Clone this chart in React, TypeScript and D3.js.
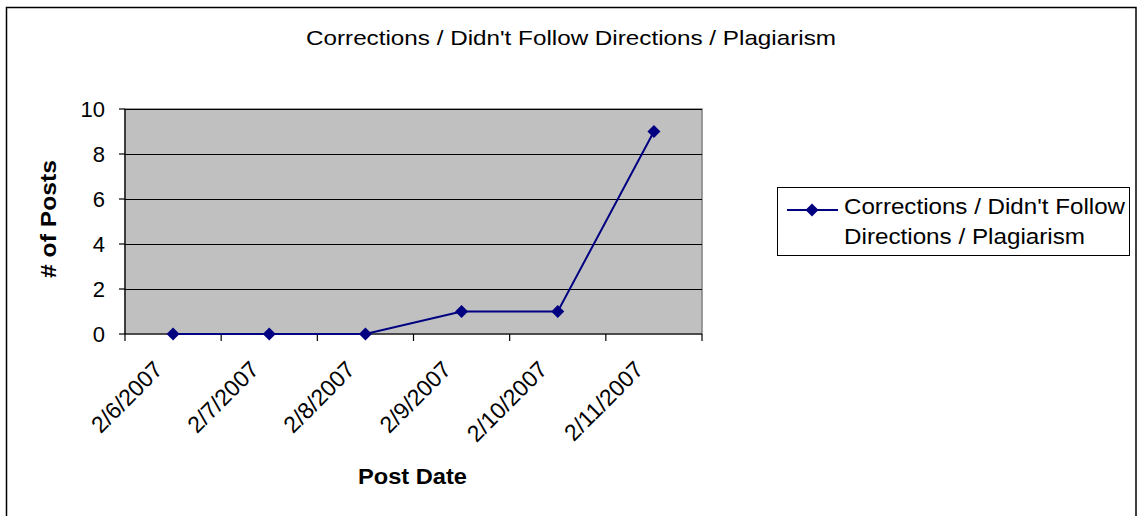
import React from "react";
import * as d3 from "d3";

const categories = ["2/6/2007", "2/7/2007", "2/8/2007", "2/9/2007", "2/10/2007", "2/11/2007"];
const values = [0, 0, 0, 1, 1, 9];
const yTicks = [0, 2, 4, 6, 8, 10];
const legendLines = ["Corrections / Didn't Follow", "Directions / Plagiarism"];
const titleText = "Corrections / Didn't Follow Directions / Plagiarism";

const W = 1138, H = 516;
const plot = { left: 125, right: 702, top: 109, bottom: 334 };
const font = "'Liberation Sans', Arial, sans-serif";
const navy = "#000080";

export default function App() {
  const x = d3.scaleBand().domain(categories).range([plot.left, plot.right]);
  const y = d3.scaleLinear().domain([0, 10]).range([plot.bottom, plot.top]);
  const line = d3.line<number>()
    .x((_, i) => (x(categories[i]) as number) + x.bandwidth() / 2)
    .y((v) => y(v));
  const diamond = (cx: number, cy: number, r: number) =>
    `M${cx},${cy - r}L${cx + r},${cy}L${cx},${cy + r}L${cx - r},${cy}Z`;
  const tickXs = categories.map((c) => x(c) as number).concat([plot.right]);

  return (
    <svg width={W} height={H} style={{ position: "absolute", left: 0, top: 0 }} fontFamily={font}>
      <rect x={0} y={0} width={W} height={H} fill="#fff" />
      <rect x={6.5} y={7.5} width={1129.5} height={520} fill="none" stroke="#000" strokeWidth={1.5} />
      <text x={306} y={45} fontSize={21} textLength={530} lengthAdjust="spacingAndGlyphs">{titleText}</text>

      <rect x={plot.left} y={plot.top} width={plot.right - plot.left} height={plot.bottom - plot.top} fill="#C0C0C0" stroke="#808080" strokeWidth={1.5} />
      {yTicks.filter((t) => t !== 0).map((t) => (
        <line key={"g" + t} x1={plot.left} x2={plot.right} y1={Math.round(y(t)) + 0.5} y2={Math.round(y(t)) + 0.5} stroke="#000" strokeWidth={1} />
      ))}
      <line x1={plot.left} x2={plot.left} y1={plot.top} y2={plot.bottom} stroke="#000" strokeWidth={1.2} />
      <line x1={plot.left} x2={plot.right} y1={plot.bottom} y2={plot.bottom} stroke="#000" strokeWidth={1.2} />
      {yTicks.map((t) => (
        <g key={"y" + t}>
          <line x1={plot.left - 6} x2={plot.left} y1={y(t)} y2={y(t)} stroke="#000" strokeWidth={1.2} />
          <text x={105} y={y(t) + 8} textAnchor="end" fontSize={22}>{t}</text>
        </g>
      ))}
      {tickXs.map((tx, i) => (
        <line key={"xt" + i} x1={tx} x2={tx} y1={plot.bottom} y2={plot.bottom + 7} stroke="#000" strokeWidth={1.2} />
      ))}
      {categories.map((c) => {
        const cx = (x(c) as number) + x.bandwidth() / 2;
        return (
          <text key={c} transform={`translate(${cx - 9},${plot.bottom + 37}) rotate(-45)`} textAnchor="end" fontSize={23}>{c}</text>
        );
      })}
      <path d={line(values) || ""} fill="none" stroke={navy} strokeWidth={2} />
      {values.map((v, i) => (
        <path key={"m" + i} d={diamond((x(categories[i]) as number) + x.bandwidth() / 2, y(v), 6.5)} fill={navy} />
      ))}

      <text transform={`translate(56,219) rotate(-90)`} textAnchor="middle" fontSize={22} fontWeight="bold" textLength={118} lengthAdjust="spacingAndGlyphs">{"# of Posts"}</text>
      <text x={358} y={484} fontSize={22} fontWeight="bold" textLength={109} lengthAdjust="spacingAndGlyphs">Post Date</text>

      <rect x={777.5} y={187.5} width={352} height={68} fill="#fff" stroke="#000" strokeWidth={1} />
      <line x1={787} x2={838} y1={210} y2={210} stroke={navy} strokeWidth={2} />
      <path d={diamond(812, 210, 6.5)} fill={navy} />
      <text x={844} y={214} fontSize={22} textLength={281} lengthAdjust="spacingAndGlyphs">{legendLines[0]}</text>
      <text x={844} y={244} fontSize={22} textLength={241} lengthAdjust="spacingAndGlyphs">{legendLines[1]}</text>
    </svg>
  );
}
